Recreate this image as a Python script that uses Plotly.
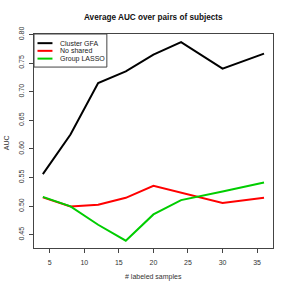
import plotly.graph_objects as go

# ---- data ----
n_labeled = [4, 8, 12, 16, 20, 24, 30, 36]
cluster_gfa = [0.556, 0.625, 0.715, 0.7355, 0.7646, 0.7866, 0.7402, 0.7664]
no_shared = [0.5152, 0.4995, 0.5023, 0.5145, 0.5354, 0.5232, 0.5054, 0.5145]
group_lasso = [0.5162, 0.4995, 0.4674, 0.4395, 0.4855, 0.5105, 0.5254, 0.5413]
series_names = ["Cluster GFA", "No shared", "Group LASSO"]
series_colors = ["#000000", "#FF0000", "#00CD00"]
x_ticks = [5, 10, 15, 20, 25, 30, 35]
y_ticks = [0.45, 0.50, 0.55, 0.60, 0.65, 0.70, 0.75, 0.80]

title_text = "Average AUC over pairs of subjects"
x_label = "# labeled samples"
y_label = "AUC"

FONT = "Liberation Sans, Arial, sans-serif"

fig = go.Figure()
for name, ys, col in zip(series_names, [cluster_gfa, no_shared, group_lasso], series_colors):
    fig.add_trace(go.Scatter(x=n_labeled, y=ys, mode="lines", name=name,
                             line=dict(color=col, width=2), showlegend=False,
                             hoverinfo="skip"))

W = H = 291
L, R, T, B = 34, 17.5, 33.5, 42.7

fig.update_layout(
    width=W, height=H,
    margin=dict(l=L, r=R, t=T, b=B, pad=0, autoexpand=False),
    paper_bgcolor="white", plot_bgcolor="white",
    font=dict(family=FONT, size=7, color="#333333"),
    showlegend=False,
)
fig.update_xaxes(range=[2.72, 37.3], tickvals=x_ticks, ticktext=[str(v) for v in x_ticks],
                 showgrid=False, zeroline=False, showline=True, mirror=True,
                 linecolor="#444444", linewidth=1, ticks="outside", ticklen=4,
                 tickcolor="#444444", ticklabelstandoff=4, automargin=False,
                 tickfont=dict(size=7, color="#333333"))
fig.update_yaxes(range=[0.4268, 0.8008], tickvals=y_ticks, ticktext=["%.2f" % v for v in y_ticks],
                 showgrid=False, zeroline=False, showline=True, mirror=True,
                 linecolor="#444444", linewidth=1, ticks="outside", ticklen=4,
                 tickcolor="#444444", tickangle=-90, ticklabelstandoff=2, automargin=False,
                 tickfont=dict(size=7, color="#333333"))

ann = []
# title
ann.append(dict(text="<b>" + title_text + "</b>", xref="paper", yref="paper",
                x=0.5, y=1 + (T - 17) / (H - T - B), xanchor="center", yanchor="middle",
                showarrow=False, font=dict(family=FONT, size=8.2, color="#111111")))
ann.append(dict(text=x_label, xref="paper", yref="paper", x=0.5,
                y=-(277.5 - (H - B)) / (H - T - B), xanchor="center", yanchor="middle",
                showarrow=False, font=dict(family=FONT, size=7, color="#333333")))
ann.append(dict(text=y_label, xref="paper", yref="paper", x=-(L - 6) / (W - L - R),
                y=(H - B - 143) / (H - T - B), xanchor="center", yanchor="middle", textangle=-90,
                showarrow=False, font=dict(family=FONT, size=7, color="#333333")))

# manual legend
pw, ph = W - L - R, H - T - B
def px(x):
    return (x - L) / pw
def py(y):
    return (H - B - y) / ph

shapes = [dict(type="rect", xref="paper", yref="paper", x0=px(34), x1=px(107),
               y0=py(66.7), y1=py(33.5), line=dict(color="#444444", width=1),
               fillcolor="white", layer="above")]
rows = [42.7, 50.4, 58.2]
for name, col, ry in zip(series_names, series_colors, rows):
    shapes.append(dict(type="line", xref="paper", yref="paper", x0=px(37.5), x1=px(52.5),
                       y0=py(ry), y1=py(ry), line=dict(color=col, width=2), layer="above"))
    ann.append(dict(text=name, xref="paper", yref="paper", x=px(58.5), y=py(ry),
                    xanchor="left", yanchor="middle", showarrow=False,
                    font=dict(family=FONT, size=7, color="#222222")))

fig.update_layout(annotations=ann, shapes=shapes)
fig.write_html("out.html", config={"displayModeBar": False, "staticPlot": True},
               post_script="document.body.style.margin='0';document.body.style.padding='0';")
